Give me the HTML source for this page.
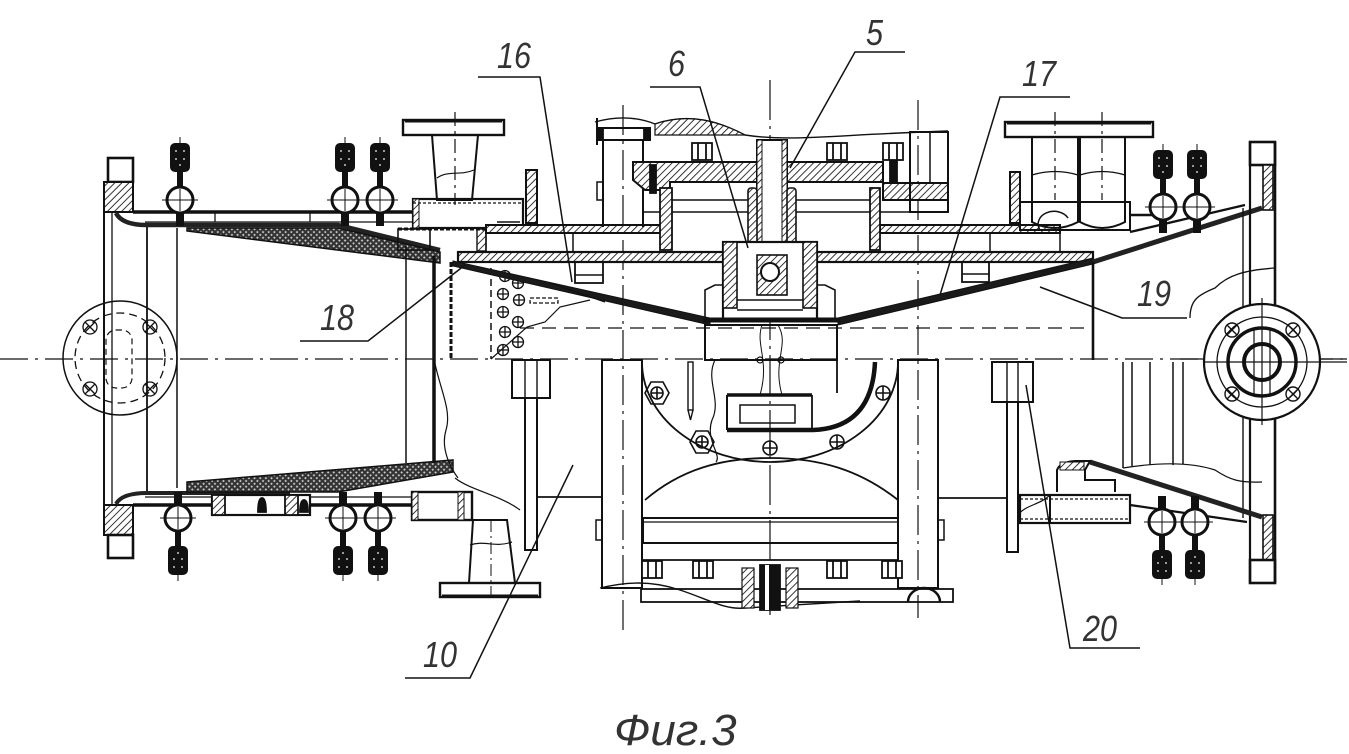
<!DOCTYPE html>
<html><head><meta charset="utf-8">
<style>html,body{margin:0;padding:0;background:#fff;}svg{display:block}</style>
</head><body>
<svg width="1349" height="754" viewBox="0 0 1349 754" xmlns="http://www.w3.org/2000/svg">
<defs>
<pattern id="h" width="5" height="5" patternUnits="userSpaceOnUse" patternTransform="rotate(45)"><rect width="5" height="5" fill="#fff"/><line x1="0" y1="0" x2="0" y2="5" stroke="#111" stroke-width="1.7"/></pattern>
<pattern id="x" width="4" height="4" patternUnits="userSpaceOnUse" patternTransform="rotate(45)"><rect width="4" height="4" fill="#333"/><rect x="1.2" y="1.2" width="1.8" height="1.8" fill="#ccc"/></pattern>
<g id="v">
 <rect x="-4" y="12" width="8" height="14" fill="#111"/>
 <rect x="-3" y="-30" width="6" height="18" fill="#111"/>
 <rect x="-10" y="-57" width="20" height="29" rx="5" fill="#111"/>
 <rect x="-5" y="-50" width="2" height="2" fill="#999"/><rect x="3" y="-50" width="2" height="2" fill="#999"/>
 <rect x="-5" y="-42" width="2" height="2" fill="#999"/><rect x="3" y="-42" width="2" height="2" fill="#999"/>
 <rect x="-1" y="-36" width="2" height="2" fill="#999"/>
 <line x1="0" y1="-63" x2="0" y2="-56" stroke="#111" stroke-width="1"/>
 <circle r="13" fill="#fff" stroke="#111" stroke-width="3"/>
 <line x1="-18" y1="0" x2="18" y2="0" stroke="#111" stroke-width="1"/>
 <line x1="0" y1="-11" x2="0" y2="11" stroke="#111" stroke-width="1"/>
</g>
<g id="nut" fill="#fff" stroke="#111" stroke-width="1.8">
 <rect x="-10" y="-9" width="20" height="17"/>
 <line x1="-4" y1="-9" x2="-4" y2="8"/><line x1="4" y1="-9" x2="4" y2="8"/>
</g>
</defs>

<!-- centre lines -->
<g stroke="#111" stroke-width="1.2" fill="none">
 <line x1="0" y1="359" x2="1349" y2="359" stroke-dasharray="28 7 3 7"/>
 <line x1="520" y1="328" x2="1093" y2="328" stroke-dasharray="14 8"/>
 <line x1="623" y1="105" x2="623" y2="632" stroke-dasharray="30 6 3 6"/>
 <line x1="918" y1="100" x2="918" y2="618" stroke-dasharray="30 6 3 6"/>
 <line x1="770" y1="80" x2="770" y2="621" stroke-dasharray="40 6 3 6"/>
 <line x1="455" y1="112" x2="455" y2="205" stroke-dasharray="14 5 3 5"/>
 <line x1="1055" y1="112" x2="1055" y2="200" stroke-dasharray="14 5 3 5"/>
 <line x1="1102" y1="112" x2="1102" y2="200" stroke-dasharray="14 5 3 5"/>
</g>

<g stroke="#111" stroke-width="1.8" fill="none">
<!-- ============ LEFT SECTION ============ -->
 <circle cx="120" cy="358" r="57" stroke-width="1.5"/>
 <circle cx="120" cy="358" r="45" stroke-width="1.3" stroke-dasharray="8 5"/>
 <rect x="106" y="330" width="26" height="58" rx="10" stroke-width="1.2" stroke-dasharray="6 4"/>
 <g stroke-width="1.3">
  <circle cx="90" cy="327" r="7"/><path d="M85,322 L95,332 M95,322 L85,332"/>
  <circle cx="150" cy="327" r="7"/><path d="M145,322 L155,332 M155,322 L145,332"/>
  <circle cx="90" cy="389" r="7"/><path d="M85,384 L95,394 M95,384 L85,394"/>
  <circle cx="150" cy="389" r="7"/><path d="M145,384 L155,394 M155,384 L145,394"/>
 </g>
 <rect x="108" y="158" width="25" height="24" stroke-width="2.6"/>
 <rect x="104" y="182" width="29" height="30" fill="url(#h)" stroke-width="2"/>
 <rect x="104" y="505" width="29" height="30" fill="url(#h)" stroke-width="2"/>
 <rect x="108" y="535" width="25" height="23" stroke-width="2.6"/>
 <line x1="104" y1="212" x2="104" y2="505" stroke-width="2"/>
 <line x1="112" y1="212" x2="112" y2="505" stroke-width="1.3"/>
 <line x1="147" y1="225" x2="147" y2="491" stroke-width="1.8"/>
 <line x1="177" y1="228" x2="177" y2="488" stroke-width="1.5"/>
 <line x1="133" y1="212" x2="413" y2="212" stroke-width="3.5"/>
 <line x1="145" y1="222" x2="413" y2="222" stroke-width="1.3"/>
 <line x1="215" y1="212" x2="215" y2="222" stroke-width="1.3"/><line x1="310" y1="212" x2="310" y2="222" stroke-width="1.3"/>
 <path d="M116,213 Q122,225 147,225 L338,225 L440,250" stroke="#222" stroke-width="4.5"/>
 <polygon points="187,228 338,228 440,252 440,263 187,231" fill="url(#x)" stroke-width="1.5"/>
 <line x1="133" y1="505" x2="413" y2="505" stroke-width="3.5"/>
 <line x1="145" y1="497" x2="413" y2="497" stroke-width="1.3"/>
 <path d="M116,504 Q122,493 147,493 L290,493" stroke="#222" stroke-width="4"/>
 <polygon points="187,482 453,460 453,472 338,492 187,492" fill="url(#x)" stroke-width="1.5"/>
 <rect x="212" y="495" width="98" height="20" fill="#fff" stroke-width="2.2"/>
 <rect x="212" y="495" width="13" height="20" fill="url(#h)"/>
 <rect x="285" y="495" width="13" height="20" fill="url(#h)"/>
 <path d="M258,512 Q258,498 262,498 Q266,498 266,512 Z" fill="#111"/>
 <path d="M300,512 Q300,500 304,500 Q308,500 308,512 Z" fill="#111"/>
 <line x1="406" y1="246" x2="406" y2="463" stroke-width="1.5"/>
 <line x1="434" y1="256" x2="434" y2="463" stroke-width="3.5"/>
 <line x1="451" y1="262" x2="451" y2="359" stroke-width="3" stroke-dasharray="5 2"/>
 <path d="M434,359 C440,390 452,410 446,430 C440,450 452,470 458,478" stroke-width="1.2"/>
 <!-- top-left pipe -->
 <rect x="403" y="120" width="101" height="15" stroke-width="2.4"/>
 <line x1="405" y1="121" x2="502" y2="121" stroke-width="3"/>
 <polygon points="432,135 478,135 472,200 437,200" stroke-width="2"/>
 <path d="M437,178 C448,170 460,176 474,170" stroke-width="1.2"/>
 <rect x="413" y="199" width="110" height="29" stroke-width="2.2"/>
 <rect x="413" y="199" width="6" height="29" fill="url(#h)" stroke-width="1"/>
 <line x1="413" y1="203" x2="523" y2="203" stroke-width="1.2" stroke-dasharray="3 2"/>
 <rect x="398" y="229" width="32" height="21" stroke-width="1.6"/>
 <rect x="477" y="229" width="9" height="22" fill="url(#h)" stroke-width="1.4"/>
 <line x1="398" y1="229" x2="488" y2="229" stroke-width="3" stroke-dasharray="4 2"/>
 <rect x="526" y="170" width="11" height="53" fill="url(#h)" stroke-width="2"/>
 <!-- bottom-left pipe -->
 <rect x="412" y="492" width="60" height="28" stroke-width="2.4"/>
 <rect x="412" y="492" width="6" height="28" fill="url(#h)" stroke-width="1"/>
 <rect x="458" y="492" width="6" height="28" fill="url(#h)" stroke-width="1"/>
 <polygon points="473,520 507,520 515,583 469,583" stroke-width="2"/>
 <path d="M470,545 C485,540 495,548 512,542" stroke-width="1.2"/>
 <line x1="491" y1="520" x2="491" y2="600" stroke-width="1" stroke-dasharray="12 4 2 4"/>
 <rect x="440" y="583" width="100" height="14" stroke-width="2.4"/>
 <line x1="442" y1="596" x2="538" y2="596" stroke-width="3"/>
 <path d="M455,478 C470,490 500,495 520,510" stroke-width="1.2"/>
 <!-- perforated zone -->
 <line x1="491" y1="268" x2="491" y2="359" stroke-width="1.5" stroke-dasharray="7 4"/>
 <path d="M491,359 L527,327 L545,322 L560,307 L590,300" stroke-width="1.2"/>
 <g stroke-width="1.3">
  <circle cx="505" cy="276" r="5.5"/><circle cx="518" cy="283" r="5.5"/>
  <circle cx="503" cy="294" r="5.5"/><circle cx="519" cy="300" r="5.5"/>
  <circle cx="503" cy="312" r="5.5"/><circle cx="518" cy="322" r="5.5"/>
  <circle cx="505" cy="332" r="5.5"/><circle cx="518" cy="342" r="5.5"/>
  <circle cx="503" cy="350" r="5.5"/>
  <path d="M500,276h10M505,271v10M513,283h10M518,278v10M498,294h10M503,289v10M514,300h10M519,295v10M498,312h10M503,307v10M513,322h10M518,317v10M500,332h10M505,327v10M513,342h10M518,337v10M498,350h10M503,345v10"/>
  <rect x="530" y="298" width="28" height="5" stroke-dasharray="4 2"/>
 </g>
 <rect x="512" y="360" width="38" height="38" stroke-width="2"/>
 <line x1="525" y1="360" x2="525" y2="398" stroke-width="1.4"/><line x1="537" y1="360" x2="537" y2="398" stroke-width="1.4"/>
 <rect x="525" y="398" width="12" height="152" stroke-width="2"/>
 <line x1="537" y1="497" x2="602" y2="497" stroke-width="1.8"/>

<!-- ============ CENTRE UPPER ============ -->
 <rect x="486" y="225" width="176" height="8" fill="url(#h)" stroke-width="2"/>
 <rect x="880" y="225" width="180" height="8" fill="url(#h)" stroke-width="2"/>
 <line x1="497" y1="222" x2="520" y2="222" stroke-width="1.6"/>
 <line x1="573" y1="233" x2="573" y2="252" stroke-width="1.5"/>
 <line x1="486" y1="233" x2="486" y2="252" stroke-width="1.5"/>
 <line x1="1060" y1="233" x2="1060" y2="252" stroke-width="1.5"/>
 <line x1="990" y1="233" x2="990" y2="252" stroke-width="1.5"/>
 <rect x="458" y="252" width="267" height="10" fill="url(#h)" stroke-width="2.2"/>
 <rect x="815" y="252" width="278" height="10" fill="url(#h)" stroke-width="2.2"/>
 <rect x="575" y="262" width="28" height="21" stroke-width="1.8"/>
 <rect x="962" y="262" width="27" height="20" stroke-width="1.8"/>
 <line x1="575" y1="275" x2="603" y2="275" stroke-width="1.4"/>
 <line x1="962" y1="274" x2="989" y2="274" stroke-width="1.4"/>
 <polygon points="453,261 710,318 710,325 453,266" fill="#1a1a1a" stroke-width="1"/>
 <line x1="550" y1="283" x2="605" y2="302" stroke-width="1.2"/>
 <polygon points="838,318 1093,258 1093,264 838,325" fill="#1a1a1a" stroke-width="1"/>
 <line x1="603" y1="140" x2="603" y2="227" stroke-width="2"/>
 <line x1="643" y1="140" x2="643" y2="227" stroke-width="2"/>
 <rect x="597" y="182" width="6" height="18" stroke-width="1.5"/>
 <rect x="597" y="128" width="53" height="12" stroke-width="2"/>
 <rect x="597" y="128" width="6" height="12" fill="#111"/>
 <rect x="644" y="128" width="6" height="12" fill="#111"/>
 <line x1="597" y1="118" x2="597" y2="145" stroke-width="2"/>
 <path d="M595,122 C620,115 640,118 655,124 C690,112 720,122 745,135 C790,142 830,135 948,131" stroke-width="1.4"/>
 <path d="M655,124 C690,112 720,122 745,135 L655,135 Z" fill="url(#h)" stroke-width="1.2"/>
 <path d="M633,162 L883,162 L883,182 L670,182 L670,190 L645,190 L633,180 Z" fill="url(#h)" stroke-width="2"/>
 <rect x="883" y="183" width="65" height="17" fill="url(#h)" stroke-width="2"/>
 <rect x="650" y="165" width="6" height="28" fill="#111"/>
 <rect x="660" y="188" width="12" height="62" fill="url(#h)" stroke-width="1.8"/>
 <rect x="870" y="188" width="10" height="62" fill="url(#h)" stroke-width="1.8"/>
 <line x1="672" y1="200" x2="870" y2="200" stroke-width="1.6"/>
 <line x1="672" y1="212" x2="870" y2="212" stroke-width="1.6"/>
 <line x1="880" y1="212" x2="910" y2="212" stroke-width="1.6"/>
 <line x1="643" y1="212" x2="660" y2="212" stroke-width="1.6"/>
 <use href="#nut" x="702" y="152"/>
 <use href="#nut" x="837" y="152"/>
 <use href="#nut" x="893" y="152"/>
 <rect x="890" y="161" width="7" height="22" fill="#111"/>
 <rect x="910" y="132" width="38" height="80" stroke-width="2"/>
 <line x1="930" y1="132" x2="930" y2="183" stroke-width="1.5"/>
 <rect x="757" y="140" width="30" height="135" fill="#fff" stroke-width="2"/>
 <rect x="757" y="140" width="5" height="130" fill="url(#h)" stroke-width="1"/>
 <rect x="782" y="140" width="5" height="130" fill="url(#h)" stroke-width="1"/>
 <rect x="748" y="188" width="9" height="57" rx="3" fill="url(#h)" stroke-width="1.6"/>
 <rect x="787" y="188" width="9" height="57" rx="3" fill="url(#h)" stroke-width="1.6"/>
 <rect x="723" y="242" width="94" height="78" fill="#fff" stroke-width="2.2"/>
 <rect x="723" y="242" width="14" height="66" fill="url(#h)" stroke-width="1.6"/>
 <rect x="803" y="242" width="14" height="66" fill="url(#h)" stroke-width="1.6"/>
 <rect x="757" y="255" width="30" height="40" fill="url(#h)" stroke-width="1.6"/>
 <circle cx="770" cy="272" r="9" fill="#fff" stroke-width="2"/>
 <line x1="737" y1="300" x2="803" y2="300" stroke-width="1.5"/>
 <line x1="737" y1="310" x2="803" y2="310" stroke-width="1.5"/>
 <path d="M705,322 L705,290 L715,285 L723,285" stroke-width="1.6"/>
 <path d="M835,322 L835,290 L825,285 L817,285" stroke-width="1.6"/>
 <line x1="703" y1="320" x2="840" y2="320" stroke-width="5"/>
 <rect x="705" y="325" width="132" height="35" stroke-width="2"/>
 <line x1="837" y1="360" x2="837" y2="393" stroke-width="1.8"/>
 <path d="M762,325 C755,345 770,360 760,395 M778,325 C790,345 772,360 782,395" stroke-width="1"/>
 <circle cx="760" cy="360" r="3" stroke-width="1.2"/><circle cx="781" cy="360" r="3" stroke-width="1.2"/>

<!-- ============ CENTRE LOWER ============ -->
 <rect x="602" y="360" width="40" height="228" stroke-width="2"/>
 <rect x="898" y="360" width="40" height="228" stroke-width="2"/>
 <rect x="596" y="520" width="6" height="20" stroke-width="1.5"/>
 <rect x="938" y="520" width="6" height="20" stroke-width="1.5"/>
 <path d="M642,362 A128,100 0 0 0 898,362" stroke-width="1.8"/>
 <path d="M875,362 Q872,428 813,430 L727,430" stroke-width="4.5"/>
 <line x1="727" y1="395" x2="812" y2="395" stroke-width="3.5"/>
 <line x1="727" y1="395" x2="727" y2="430" stroke-width="2"/>
 <rect x="740" y="405" width="55" height="18" stroke-width="1.5"/>
 <line x1="812" y1="395" x2="812" y2="428" stroke-width="1.8"/>
 <path d="M715,360 C705,380 722,400 712,420 C705,440 722,455 716,462" stroke-width="1.2"/>
 <rect x="688" y="362" width="5" height="48" stroke-width="1.4"/>
 <path d="M688,410 L690.5,420 L693,410" stroke-width="1.4"/>
 <g stroke-width="1.6">
  <polygon points="645,393 651,382 663,382 669,393 663,404 651,404"/><circle cx="657" cy="393" r="6"/><path d="M651,393h12M657,387v12"/>
  <polygon points="690,442 696,431 708,431 714,442 708,453 696,453"/><circle cx="702" cy="442" r="6"/><path d="M696,442h12M702,436v12"/>
  <circle cx="770" cy="448" r="7"/><path d="M763,448h14M770,441v14"/>
  <circle cx="837" cy="442" r="7"/><path d="M830,442h14M837,435v14"/>
  <circle cx="883" cy="393" r="7"/><path d="M876,393h14M883,386v14"/>
 </g>
 <path d="M645,500 C680,470 720,458 770,458 C820,458 860,470 898,500" stroke-width="1.8"/>
 <rect x="643" y="518" width="255" height="25" stroke-width="2"/>
 <line x1="643" y1="522" x2="898" y2="522" stroke-width="1.3"/>
 <line x1="643" y1="560" x2="898" y2="560" stroke-width="1.8"/>
 <use href="#nut" x="652" y="570"/><use href="#nut" x="703" y="570"/>
 <use href="#nut" x="837" y="570"/><use href="#nut" x="892" y="570"/>
 <rect x="641" y="589" width="312" height="13" stroke-width="1.8"/>
 <path d="M600,588 C625,582 650,580 680,590 C710,600 725,610 745,608 L860,601" stroke-width="1.4"/>
 <rect x="742" y="568" width="12" height="40" fill="url(#h)" stroke-width="1.2"/>
 <rect x="786" y="568" width="12" height="40" fill="url(#h)" stroke-width="1.2"/>
 <rect x="760" y="565" width="20" height="45" fill="#111"/>
 <rect x="765" y="565" width="4" height="45" fill="#fff" stroke="none"/>
 <path d="M908,602 A16,14 0 0 1 940,602" stroke-width="2.5"/>
 <line x1="938" y1="498" x2="1007" y2="498" stroke-width="1.8"/>

<!-- ============ RIGHT SECTION ============ -->
 <rect x="1005" y="122" width="148" height="15" stroke-width="2.4"/>
 <line x1="1007" y1="123" x2="1151" y2="123" stroke-width="3"/>
 <path d="M1032,137 L1032,222 Q1055,234 1078,222 L1078,137" stroke-width="2"/>
 <path d="M1080,137 L1080,222 Q1102,234 1125,222 L1125,137" stroke-width="2"/>
 <path d="M1032,175 Q1055,168 1078,175 M1080,175 Q1102,168 1125,175" stroke-width="1.3"/>
 <rect x="1010" y="172" width="10" height="51" fill="url(#h)" stroke-width="2"/>
 <rect x="1020" y="202" width="110" height="28" stroke-width="2"/>
 <path d="M1040,230 A15,12 0 0 1 1068,218" stroke-width="1.5"/>
 <line x1="1130" y1="215" x2="1163" y2="215" stroke-width="2.5"/>
 <line x1="1130" y1="232" x2="1245" y2="205" stroke-width="2.4"/>
 <path d="M1093,262 L1262,208" stroke="#222" stroke-width="5"/>
 <line x1="1093" y1="262" x2="1093" y2="360" stroke-width="2.6"/>
 <rect x="1250" y="142" width="25" height="23" stroke-width="2.6"/>
 <rect x="1263" y="165" width="10" height="45" fill="url(#h)" stroke-width="1.6"/>
 <line x1="1250" y1="142" x2="1250" y2="583" stroke-width="2.2"/>
 <line x1="1275" y1="142" x2="1275" y2="583" stroke-width="2.6"/>
 <line x1="1243" y1="208" x2="1243" y2="518" stroke-width="1.4"/>
 <rect x="1263" y="515" width="10" height="45" fill="url(#h)" stroke-width="1.6"/>
 <rect x="1250" y="560" width="25" height="23" stroke-width="2.6"/>
 <path d="M1190,318 C1190,300 1198,295 1215,288 C1228,275 1245,270 1275,268" stroke-width="1.3"/>
 <line x1="1180" y1="359" x2="1347" y2="359" stroke-width="1.2"/>
 <circle cx="1262" cy="362" r="58" fill="#fff" stroke-width="2.2"/>
 <circle cx="1262" cy="362" r="45" stroke-width="1.3"/>
 <circle cx="1262" cy="362" r="34" stroke-width="3.5"/>
 <circle cx="1262" cy="362" r="18" stroke-width="4"/>
 <line x1="1204" y1="362" x2="1347" y2="362" stroke-width="1.2"/>
 <line x1="1262" y1="298" x2="1262" y2="425" stroke-width="1.2"/>
 <path d="M1254,330 v64 M1270,330 v64" stroke-width="1.2"/>
 <g stroke-width="1.4">
  <circle cx="1232" cy="330" r="7"/><path d="M1227,325 L1237,335 M1237,325 L1227,335"/>
  <circle cx="1293" cy="330" r="7"/><path d="M1288,325 L1298,335 M1298,325 L1288,335"/>
  <circle cx="1232" cy="394" r="7"/><path d="M1227,389 L1237,399 M1237,389 L1227,399"/>
  <circle cx="1293" cy="394" r="7"/><path d="M1288,389 L1298,399 M1298,389 L1288,399"/>
 </g>
 <g stroke-width="1.5">
  <line x1="1123" y1="362" x2="1123" y2="468"/><line x1="1132" y1="362" x2="1132" y2="466"/>
  <line x1="1150" y1="362" x2="1150" y2="465"/><line x1="1173" y1="362" x2="1173" y2="465"/>
  <line x1="1183" y1="362" x2="1183" y2="464"/>
 </g>
 <path d="M1123,468 C1160,462 1190,462 1215,470 C1230,480 1240,483 1262,482" stroke-width="1.2"/>
 <rect x="992" y="362" width="41" height="40" stroke-width="2"/>
 <line x1="1007" y1="362" x2="1007" y2="402" stroke-width="1.4"/><line x1="1018" y1="362" x2="1018" y2="402" stroke-width="1.4"/>
 <rect x="1007" y="402" width="11" height="150" stroke-width="2"/>
 <path d="M1090,462 L1262,517" stroke="#222" stroke-width="5"/>
 <line x1="1130" y1="505" x2="1247" y2="522" stroke-width="2.2"/>
 <path d="M1057,492 L1057,470 Q1060,462 1075,461 L1090,461 L1085,470 L1085,480 L1115,480 L1115,492" stroke-width="2"/>
 <rect x="1060" y="462" width="24" height="8" fill="url(#h)" stroke-width="1"/>
 <rect x="1020" y="495" width="110" height="28" stroke-width="2.2"/>
 <line x1="1050" y1="495" x2="1050" y2="523" stroke-width="2"/>
 <line x1="1020" y1="499" x2="1130" y2="499" stroke-width="1.2" stroke-dasharray="3 2"/>
 <line x1="1020" y1="519" x2="1130" y2="519" stroke-width="1.2" stroke-dasharray="3 2"/>
 <path d="M1018,515 C1025,505 1040,505 1050,495" stroke-width="1.2"/>
</g>

<use href="#v" transform="translate(180,200)"/>
<use href="#v" transform="translate(345,200)"/>
<use href="#v" transform="translate(380,200)"/>
<use href="#v" transform="translate(1163,207)"/>
<use href="#v" transform="translate(1197,207)"/>
<use href="#v" transform="translate(178,518) scale(1,-1)"/>
<use href="#v" transform="translate(343,518) scale(1,-1)"/>
<use href="#v" transform="translate(378,518) scale(1,-1)"/>
<use href="#v" transform="translate(1162,522) scale(1,-1)"/>
<use href="#v" transform="translate(1195,522) scale(1,-1)"/>

<g stroke="#111" stroke-width="1.5" fill="none">
 <path d="M478,77 L540,77 L572,282"/>
 <path d="M650,87 L700,87 L748,248"/>
 <path d="M905,52 L855,52 L790,168"/>
 <path d="M1070,97 L1000,97 L940,295"/>
 <path d="M300,341 L368,341 L465,265"/>
 <path d="M1040,287 L1122,318 L1187,318"/>
 <path d="M405,678 L470,678 L573,465"/>
 <path d="M1140,648 L1070,648 L1026,385"/>
</g>

<g font-family="'Liberation Sans', sans-serif" font-style="italic" font-size="36" fill="#333">
 <text x="497" y="68" transform="translate(497,68) scale(0.85,1) translate(-497,-68)">16</text>
 <text x="668" y="76" transform="translate(668,76) scale(0.85,1) translate(-668,-76)">6</text>
 <text x="866" y="45" transform="translate(866,45) scale(0.85,1) translate(-866,-45)">5</text>
 <text x="1022" y="86" transform="translate(1022,86) scale(0.85,1) translate(-1022,-86)">17</text>
 <text x="320" y="330" transform="translate(320,330) scale(0.85,1) translate(-320,-330)">18</text>
 <text x="1137" y="306" transform="translate(1137,306) scale(0.85,1) translate(-1137,-306)">19</text>
 <text x="423" y="667" transform="translate(423,667) scale(0.85,1) translate(-423,-667)">10</text>
 <text x="1083" y="641" transform="translate(1083,641) scale(0.85,1) translate(-1083,-641)">20</text>
 <text x="614" y="745" font-size="44" transform="translate(614,745) scale(1.04,1) translate(-614,-745)">Фиг.3</text>
</g>
</svg>
</body></html>
